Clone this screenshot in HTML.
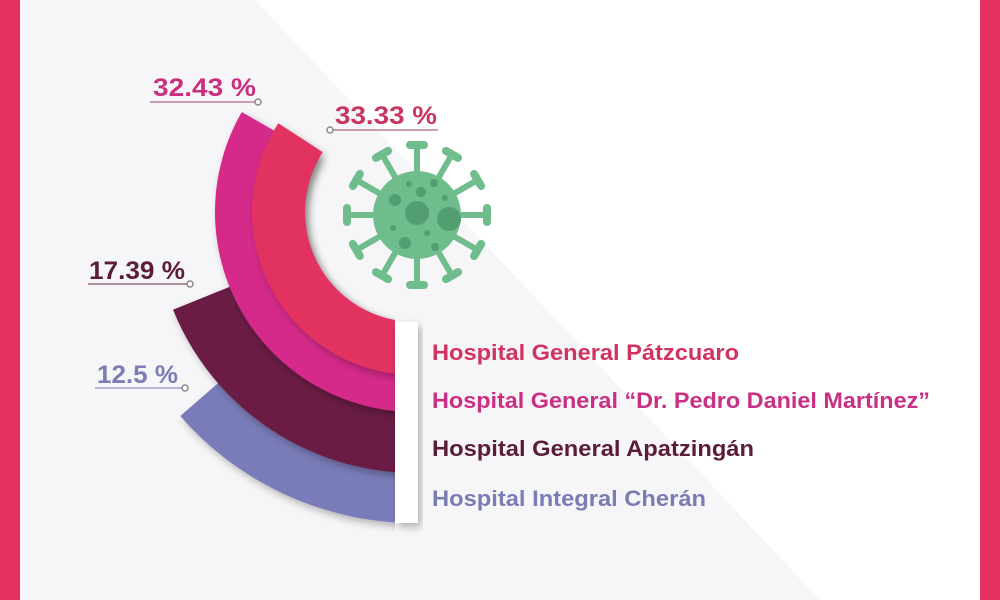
<!DOCTYPE html>
<html><head><meta charset="utf-8"><style>
html,body{margin:0;padding:0;width:1000px;height:600px;overflow:hidden;background:#fff}
svg{display:block}
text{font-family:"Liberation Sans",sans-serif;font-weight:bold}
</style></head><body>
<svg width="1000" height="600" viewBox="0 0 1000 600" xmlns="http://www.w3.org/2000/svg">
<defs>
<filter id="sh" x="-20%" y="-20%" width="140%" height="140%"><feDropShadow dx="3" dy="4" stdDeviation="4" flood-color="#000" flood-opacity="0.28"/></filter>
<clipPath id="cl"><rect x="0" y="0" width="395" height="600"/></clipPath>
</defs>
<rect width="1000" height="600" fill="#ffffff"/>
<polygon points="20,0 255,0 820,600 20,600" fill="#f6f6f8"/>
<rect x="0" y="0" width="20" height="600" fill="#e2315f"/>
<rect x="980" y="0" width="20" height="600" fill="#e2315f"/>

<g clip-path="url(#cl)">
<path filter="url(#sh)" fill="#7a7bb9" d="M469.0,518.3 A311,311 0 0 1 180.3,416.0 L264.1,343.2 A200,200 0 0 0 449.7,409.0 Z"/>
<path filter="url(#sh)" fill="#6b1d45" d="M460.3,469.0 A261,261 0 0 1 173.0,309.8 L275.9,268.2 A150,150 0 0 0 441.0,359.7 Z"/>
<path filter="url(#sh)" fill="#d52a8a" d="M449.7,409.0 A200,200 0 0 1 241.8,112.0 L319.7,157.0 A110,110 0 0 0 434.1,320.3 Z"/>
<path filter="url(#sh)" fill="#e2315f" d="M443.3,372.5 A163,163 0 0 1 278.3,123.2 L322.7,152.1 A110,110 0 0 0 434.1,320.3 Z"/>
</g>

<g filter="url(#sh)">
<rect x="395" y="322" width="23" height="53" fill="#fff"/>
<rect x="395" y="375" width="23" height="37" fill="#fff"/>
<rect x="395" y="412" width="23" height="61" fill="#fff"/>
<rect x="395" y="473" width="23" height="50" fill="#fff"/>
</g>

<g fill="#6fbd8c" stroke="#6fbd8c">
<g stroke-width="6" stroke-linecap="round">
<g id="sp"><line x1="417" y1="215" x2="417" y2="145"/><line x1="410" y1="145" x2="424" y2="145" stroke-width="8"/></g>
<use href="#sp" transform="rotate(30 417 215)"/>
<use href="#sp" transform="rotate(60 417 215)"/>
<use href="#sp" transform="rotate(90 417 215)"/>
<use href="#sp" transform="rotate(120 417 215)"/>
<use href="#sp" transform="rotate(150 417 215)"/>
<use href="#sp" transform="rotate(180 417 215)"/>
<use href="#sp" transform="rotate(210 417 215)"/>
<use href="#sp" transform="rotate(240 417 215)"/>
<use href="#sp" transform="rotate(270 417 215)"/>
<use href="#sp" transform="rotate(300 417 215)"/>
<use href="#sp" transform="rotate(330 417 215)"/>
</g>
<circle cx="417" cy="215" r="44" stroke="none"/>
</g>
<g fill="#529e70">
<circle cx="417" cy="213" r="12"/>
<circle cx="449" cy="219" r="12"/>
<circle cx="395" cy="200" r="6"/>
<circle cx="421" cy="192" r="5"/>
<circle cx="434" cy="183" r="4"/>
<circle cx="409" cy="184" r="3"/>
<circle cx="445" cy="198" r="3"/>
<circle cx="393" cy="228" r="3"/>
<circle cx="405" cy="243" r="6"/>
<circle cx="427" cy="233" r="3"/>
<circle cx="435" cy="247" r="4"/>
</g>

<g stroke-width="1.5" fill="none">
<line x1="150" y1="102" x2="255" y2="102" stroke="#b9809f"/><circle cx="258" cy="102" r="3" stroke="#8a8a8a" fill="#fff"/>
<line x1="333" y1="130" x2="438" y2="130" stroke="#b97f90"/><circle cx="330" cy="130" r="3" stroke="#8a8a8a" fill="#fff"/>
<line x1="88" y1="284" x2="187" y2="284" stroke="#8d6d7d"/><circle cx="190" cy="284" r="3" stroke="#8a8a8a" fill="#fff"/>
<line x1="95" y1="388" x2="182" y2="388" stroke="#9d9dc4"/><circle cx="185" cy="388" r="3" stroke="#8a8a8a" fill="#fff"/>
</g>
<text x="153" y="96" font-size="25" fill="#c92f80" textLength="103" lengthAdjust="spacingAndGlyphs">32.43 %</text>
<text x="335" y="124" font-size="25" fill="#c9355f" textLength="102" lengthAdjust="spacingAndGlyphs">33.33 %</text>
<text x="89" y="279" font-size="25" fill="#5c1c3b" textLength="96" lengthAdjust="spacingAndGlyphs">17.39 %</text>
<text x="97" y="383" font-size="25" fill="#7c7db5" textLength="81" lengthAdjust="spacingAndGlyphs">12.5 %</text>

<text x="432" y="360" font-size="22" fill="#d2325f" textLength="307" lengthAdjust="spacingAndGlyphs">Hospital General Pátzcuaro</text>
<text x="432" y="408" font-size="22" fill="#c92f84" textLength="498" lengthAdjust="spacingAndGlyphs">Hospital General “Dr. Pedro Daniel Martínez”</text>
<text x="432" y="456" font-size="22" fill="#5a1c3a" textLength="322" lengthAdjust="spacingAndGlyphs">Hospital General Apatzingán</text>
<text x="432" y="506" font-size="22" fill="#7a7cb4" textLength="274" lengthAdjust="spacingAndGlyphs">Hospital Integral Cherán</text>
</svg>
</body></html>
